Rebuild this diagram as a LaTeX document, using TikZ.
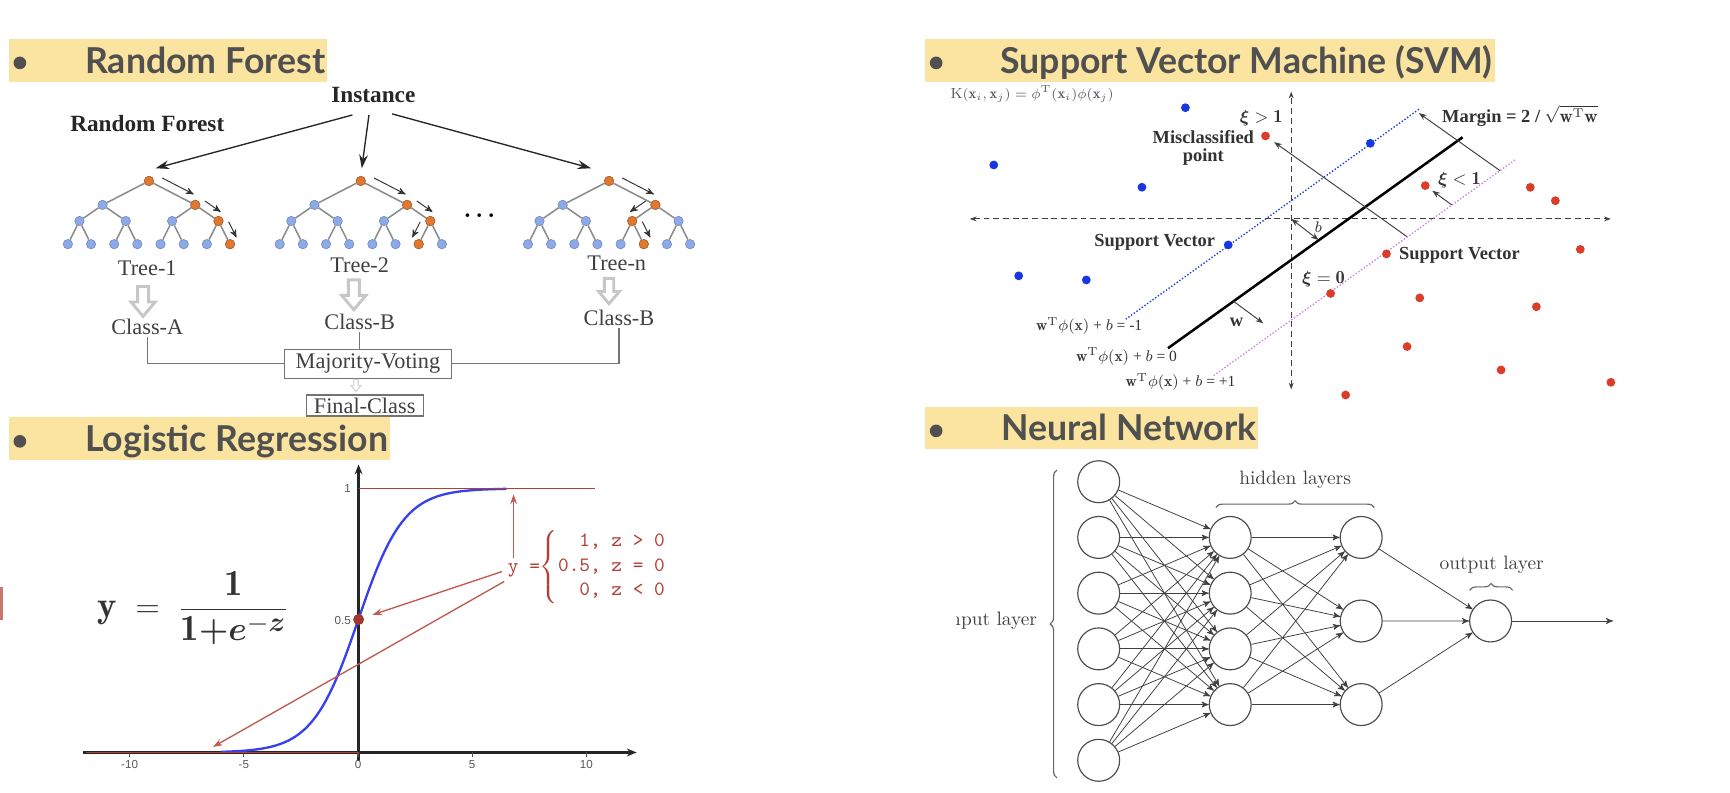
\documentclass[tikz,border=0pt]{standalone}
\usepackage{amsmath}
\usepackage{amssymb}
\usepackage{fontspec}
\newfontfamily\hdfont{Lato}
\newfontfamily\picserif{Liberation Serif}
\newfontfamily\picsans{Liberation Sans}
\usetikzlibrary{arrows,arrows.meta,calc,decorations.pathreplacing}

\definecolor{hlyellow}{RGB}{250,228,160}
\definecolor{hdgray}{RGB}{80,80,80}
\definecolor{rfblue}{RGB}{140,170,232}
\definecolor{rforange}{RGB}{226,120,45}
\definecolor{lrred}{RGB}{178,62,52}
\definecolor{lrblue}{RGB}{55,65,235}
\definecolor{svblue}{RGB}{25,55,225}
\definecolor{svred}{RGB}{218,62,42}
\definecolor{svviolet}{RGB}{200,130,230}

\newcommand\rftree[3]{%
  \node[rfnode] (#1r) at (#2,164) {};
  \foreach \i in {1,2}
    \node[rfnode] (#1b\i) at ({#2+(\i-1.5)*84},185.7) {};
  \foreach \i in {1,...,4}
    \node[rfnode] (#1c\i) at ({#2+(\i-2.5)*42},200.3) {};
  \foreach \i in {1,...,8}
    \node[rfnode] (#1d\i) at ({#2+(\i-4.5)*21},221.3) {};
  \foreach \i in {1,2}
    \draw[rfedge] (#1r) -- (#1b\i);
  \foreach \i in {1,...,4}{
    \pgfmathtruncatemacro\rfup{(\i+1)/2}
    \draw[rfedge] (#1b\rfup) -- (#1c\i);}
  \foreach \i in {1,...,8}{
    \pgfmathtruncatemacro\rfup{(\i+1)/2}
    \draw[rfedge] (#1c\rfup) -- (#1d\i);}
  \foreach \n in {#3}
    \node[rfnode,fill=rforange,draw=rforange!80!black] (#1o\n) at (#1\n) {};
}
\newcommand\rfstep[3]{%
  \draw[rfarrow] ($(#1)!0.2!(#2)!4.5pt!#3:(#2)$) -- ($(#1)!0.88!(#2)!4.5pt!#3:(#2)$);}
\newcommand\sigform{\fontsize{19}{22}\selectfont
  $\mathbf{y}\;=\;\dfrac{\mathbf{1}}{\mathbf{1}{\boldsymbol{+}}\boldsymbol{e}^{-\boldsymbol{z}}}$}
\newcommand\casesform{\fontsize{10.5}{10.2}\selectfont\ttfamily y =%
  $\left\{\mbox{\ttfamily\begin{tabular}{@{}l@{}}~~1, z > 0\\[2.6pt]0.5, z = 0\\[2.6pt]~~0, z < 0\end{tabular}}\right.$}
\newcommand\wphi{$\mathbf{w}^{\mathrm{T}}\phi(\mathbf{x})$ + $b$}

\begin{document}
\begin{tikzpicture}[x=0.02cm,y=-0.02cm,>=stealth',
  hdbar/.style={fill=hlyellow},
  hdbullet/.style={circle,fill=hdgray,inner sep=0,minimum size=0.23cm},
  hdtext/.style={anchor=base west,inner sep=0,text=hdgray,
    font=\hdfont\bfseries\fontsize{18.4}{20}\selectfont},
  rfnode/.style={circle,inner sep=0,minimum size=0.17cm,fill=rfblue,
    draw=rfblue!80!black,line width=0.3pt},
  rfedge/.style={draw=black!45,line width=0.8pt},
  rfarrow/.style={->,draw=black!80,line width=0.5pt},
  rftext/.style={font=\picserif\fontsize{11.5}{13}\selectfont,text=black!75,inner sep=1pt},
  rfbold/.style={font=\picserif\bfseries\fontsize{12}{14}\selectfont,text=black!85},
  rfbox/.style={rftext,draw=black!55,line width=0.6pt,inner sep=1pt},
  rfline/.style={draw=black!55,line width=0.6pt},
  rfhollow/.style={draw=black!22,line width=1.5pt,fill=white},
  hollowdown/.pic={\draw[rfhollow] (-5,0) -- (5,0) -- (5,14) -- (11,14)
    -- (0,27) -- (-11,14) -- (-5,14) -- cycle;},
  instarrow/.style={-{Stealth[length=7pt,width=4.5pt]},draw=black!85,line width=0.7pt},
  lraxis/.style={black!85,line width=1.3pt,-{Stealth[length=5pt,width=4pt]}},
  lrtick/.style={black!70,line width=0.6pt},
  lrline/.style={lrred,line width=0.9pt},
  lrarrow/.style={-{Stealth[length=5pt,width=3.5pt]},draw=lrred!85,line width=0.7pt},
  ticklab/.style={font=\picsans\fontsize{6}{7}\selectfont,text=black!65,inner sep=1pt},
  svaxis/.style={{Stealth[length=3.5pt,width=2.5pt]}-{Stealth[length=3.5pt,width=2.5pt]},
    dash pattern=on 3pt off 2pt,draw=black!75,line width=0.6pt},
  svneg/.style={draw=svblue,densely dotted,line width=0.7pt},
  svpos/.style={draw=svviolet,densely dotted,line width=0.7pt},
  svhyp/.style={draw=black,line width=1.3pt},
  svarrow/.style={-{Stealth[length=4pt,width=3pt]},draw=black!75,line width=0.5pt},
  svboth/.style={{Stealth[length=4pt,width=3pt]}-{Stealth[length=4pt,width=3pt]},
    draw=black!75,line width=0.5pt},
  svdot/.style={circle,inner sep=0,minimum size=0.16cm},
  svlab/.style={font=\picserif\bfseries\fontsize{9.5}{9}\selectfont,text=black!80,inner sep=1pt},
  sveq/.style={font=\picserif\fontsize{8}{9}\selectfont,text=black!80,inner sep=1pt},
  neuron/.style={circle,draw=black!70,line width=0.6pt,minimum size=0.76cm,inner sep=0},
  nnarrow/.style={->,draw=black!75,line width=0.4pt},
  nnbrace/.style={decorate,decoration={brace,amplitude=3.5pt},draw=black!60,line width=0.6pt},
  nntext/.style={font=\fontsize{10}{12}\selectfont,text=black!75,inner sep=1pt}]

\useasboundingbox (0,0) rectangle (1568,718);

\fill[hdbar] (8.3,35.7) rectangle (296,74);
\node[hdbullet] (bulrf) at (18,57) {};
\node[hdtext] (hdrf) at (77,66.5) {Random Forest};
\fill[hdbar] (8.3,378.3) rectangle (353.4,417);
\node[hdbullet] (bullr) at (18,400) {};
\node[hdtext] (hdlr) at (77,409.4) {Logistic Regression};
\fill[hdbar] (838.7,35.7) rectangle (1355,74);
\node[hdbullet] (bulsv) at (848.5,57) {};
\node[hdtext] (hdsv) at (906.4,66.5) {Support Vector Machine (SVM)};
\fill[hdbar] (838.7,368.6) rectangle (1140.6,407.3);
\node[hdbullet] (bulnn) at (848.5,390.5) {};
\node[hdtext] (hdnn) at (907.5,398.8) {Neural Network};

\node[rfbold] (inst) at (338.4,86) {Instance};
\node[rfbold] (rfname) at (133.5,111.8) {Random Forest};
\rftree{ta}{135}{r,b2,c4,d8}
\rftree{tb}{327}{r,b2,c4,d7}
\rftree{tn}{552}{r,b2,c3,d6}
\rfstep{tar}{tab2}{90}
\rfstep{tab2}{tac4}{90}
\rfstep{tac4}{tad8}{90}
\rfstep{tbr}{tbb2}{90}
\rfstep{tbb2}{tbc4}{90}
\rfstep{tbc4}{tbd7}{-90}
\rfstep{tnr}{tnb2}{90}
\rfstep{tnb2}{tnc3}{-90}
\rfstep{tnc3}{tnd6}{90}
\node[font=\fontsize{13}{13}\selectfont] (rfdots) at (436.5,196) {$\boldsymbol{\cdots}$};

\coordinate (tain) at (141,152.5);
\coordinate (tbin) at (327.9,152.5);
\coordinate (tnin) at (535.8,152.5);
\draw[instarrow] ($(inst.south)+(-19,5)$) -- (tain);
\draw[instarrow] ($(inst.south)+(-4,5)$) -- (tbin);
\draw[instarrow] ($(inst.south)+(17,4)$) -- (tnin);

\node[rftext] (talab) at (133.5,243) {Tree-1};
\node[rftext] (tblab) at (326,240) {Tree-2};
\node[rftext] (tnlab) at (559,238.7) {Tree-n};
\pic at (129.7,259.7) {hollowdown};
\pic at (320.7,253.7) {hollowdown};
\pic[scale=0.85] at (552,252.3) {hollowdown};
\node[rftext] (tacls) at (133.5,296) {Class-A};
\node[rftext] (tbcls) at (326,291.4) {Class-B};
\node[rftext] (tncls) at (561,288) {Class-B};
\node[rfbox,minimum width=3.04cm,minimum height=0.53cm] (vote) at (333.5,329.7) {Majority-Voting};
\draw[rfline] (tacls.south) |- (vote.west);
\draw[rfline] (tbcls.south) -- (tbcls.south |- vote.north);
\draw[rfline] (tncls.south) |- (vote.east);
\pic[scale=0.4,rfhollow/.append style={line width=0.7pt,draw=black!15}] at (322.6,344) {hollowdown};
\node[rfbox,font=\picserif\fontsize{11.5}{12}\selectfont,minimum width=2.12cm,minimum height=0.38cm] (final) at (330.5,367.5) {Final-Class};

\draw[lraxis] (325,690) -- (325,421);
\draw[lraxis] (75,682) -- (577,682);
\foreach \t [count=\k] in {-10,-5,0,5,10}{
  \draw[lrtick] ({324.5+20.7*\t},682) -- ++(0,4);
  \node[ticklab] (tk\k) at ({324.5+20.7*\t},693) {\t};
}
\draw[lrblue,line width=1.2pt] plot[domain=-6:6.5,samples=120] ({324.5+20.7*\x},{682-239.3/(1+exp(-\x))});
\draw[lrline] (78,682) -- (325,682);
\draw[lrline] (325,442.7) -- (539.6,442.7);
\node[circle,fill=lrred!90!black,inner sep=0,minimum size=0.2cm] (half) at (325,561.5) {};
\node[ticklab,anchor=east] (lab1) at (320,443) {1};
\node[ticklab,anchor=east] (lab05) at (320,562) {0.5};
\node[anchor=west,text=lrred,inner sep=0] (lrcase) at (460,514) {\casesform};
\coordinate (ztop) at (465.5,448);
\coordinate (zlow) at (193,677);
\draw[lrarrow] ($(lrcase.west)+(5.5,-8)$) -- (ztop);
\draw[lrarrow,shorten >=4.5pt] ($(lrcase.west)+(-5,4)$) -- (half);
\draw[lrarrow] ($(lrcase.west)+(-3,13)$) -- (zlow);
\node[anchor=base west,inner sep=0,text=black!80] (sigf) at (88,560) {\sigform};
\draw[lrred!70,line width=1.2pt] (1.5,532) -- (1.5,562);

\node[sveq,font=\picserif\fontsize{7.5}{9}\selectfont,text=black!65] (kern) at (935.5,85.5)
  {$\mathrm{K}(\mathbf{x}_i,\mathbf{x}_j)=\phi^{\mathrm{T}}(\mathbf{x}_i)\phi(\mathbf{x}_j)$};
\coordinate (vtop) at (1170.3,83);
\coordinate (vbot) at (1170.3,353);
\coordinate (hlft) at (879,198.4);
\coordinate (hrgt) at (1460,198.4);
\coordinate (orig) at (1170.3,198.4);
\draw[svaxis] (vbot) -- (vtop);
\draw[svaxis] (hlft) -- (hrgt);
\coordinate (mn1) at (1020.3,289.3);
\coordinate (mn2) at (1287.2,98.2);
\coordinate (hp1) at (1058.6,315.6);
\coordinate (hp2) at (1325.6,124.4);
\coordinate (mp1) at (1100,340.4);
\coordinate (mp2) at (1373,145);
\draw[svneg] (mn1) -- (mn2);
\draw[svhyp] (hp1) -- (hp2);
\draw[svpos] (mp1) -- (mp2);
\foreach \px/\py [count=\k] in {1074.4/97.6,900.7/149.5,1035/169.7,1113.2/222,923.3/250,984.6/253.7,1242/129.9}
  \node[svdot,fill=svblue] (sb\k) at (\px,\py) {};
\foreach \px/\py [count=\k] in {1147/123.2,1291.8/168.2,1256.6/230.1,1206/266,1286.8/270,1275.3/314.1,1387/169.8,1409.7/181.9,1432.3/226,1392.5/278,1360.5/335.3,1460/346.5,1219.6/358}
  \node[svdot,fill=svred] (sr\k) at (\px,\py) {};
\coordinate (mgtop) at (1286,102.5);
\coordinate (mgbot) at (1359.6,154.7);
\draw[svarrow] (mgbot) -- (mgtop);
\coordinate (msbot) at (1275.1,214.4);
\draw[svarrow,shorten >=3pt] (msbot) -- (sr1);
\coordinate (xibot) at (1315.9,185.8);
\draw[svarrow,shorten >=2pt] (xibot) -- (sr2);
\coordinate (bfoot) at (1195.1,217.5);
\draw[svboth] (orig) -- (bfoot);
\coordinate (wfoot) at (1118,273.1);
\coordinate (wtip) at (1145,293);
\draw[svarrow] (wfoot) -- (wtip);
\node[svlab] (xigt) at (1143.2,107.2) {$\boldsymbol{\xi}>\mathbf{1}$};
\node[svlab,align=center] (misl) at (1090.6,134) {Misclassified\\point};
\node[svlab] (xilt) at (1322.7,163) {$\boldsymbol{\xi}<\mathbf{1}$};
\node[svlab] (svl) at (1046.6,219.6) {Support Vector};
\node[svlab,anchor=west] (svr) at (1266,231.6) {Support Vector};
\node[svlab] (xieq) at (1199.6,253.4) {$\boldsymbol{\xi}=\mathbf{0}$};
\node[svlab,anchor=west] (marg) at (1305,105) {Margin = 2 / $\sqrt{\mathbf{w}^{\mathrm{T}}\mathbf{w}}$};
\node[sveq] (blab) at (1195,205.4) {$b$};
\node[svlab] (wlab) at (1120.7,292) {w};
\node[sveq] (eqn) at (987.2,295.4) {\wphi{} = -1};
\node[sveq] (eqz) at (1021,323.2) {\wphi{} = 0};
\node[sveq] (eqp) at (1070,346) {\wphi{} = +1};

\foreach \k in {1,...,6}
  \node[neuron] (in\k) at (995.8,{436.6+(\k-1)*50.5}) {};
\foreach \k in {1,...,4}
  \node[neuron] (ha\k) at (1115,{487.1+(\k-1)*50.5}) {};
\foreach \k in {1,2,3}
  \node[neuron] (hb\k) at (1233.7,{487.1+(\k-1)*75.75}) {};
\node[neuron] (out) at (1351,562.8) {};
\coordinate (outend) at (1462,562.8);
\foreach \a in {1,...,6}
  \foreach \b in {1,...,4}
    \draw[nnarrow] (in\a) -- (ha\b);
\foreach \a in {1,...,4}
  \foreach \b in {1,2,3}
    \draw[nnarrow] (ha\a) -- (hb\b);
\foreach \a in {1,2,3}
  \draw[nnarrow] (hb\a) -- (out);
\draw[nnarrow] (out) -- (outend);
\draw[nnbrace] (958,705) -- (958,426);
\draw[nnbrace] (1102,460) -- (1245.6,460);
\draw[nnbrace] (1332,535) -- (1371,535);
\node[nntext] (hidlab) at (1173.8,435.1) {hidden layers};
\node[nntext] (outlab) at (1352,512) {output layer};
\begin{scope}
  \clip (867,530) rectangle (950,600);
  \node[nntext,anchor=east] (inlab) at (942,562.6) {input layer};
\end{scope}
\end{tikzpicture}
\end{document}
